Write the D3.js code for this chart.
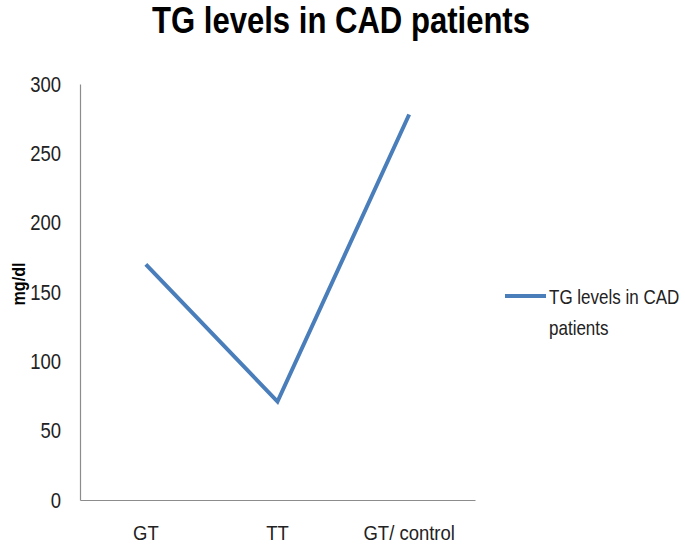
<!DOCTYPE html>
<html><head><meta charset="utf-8">
<script src="https://cdn.jsdelivr.net/npm/d3@7"></script>
<style>body{margin:0;background:#fff}svg{display:block}</style>
</head><body>
<script>
const categories = ["GT", "TT", "GT/ control"];
const values = [170, 71, 278];
const yTicks = [0, 50, 100, 150, 200, 250, 300];
const seriesName = "TG levels in CAD patients";
const titleText = "TG levels in CAD patients";
const yLabel = "mg/dl";

const W = 685, H = 552;
const font = "'Liberation Sans', Arial, sans-serif";
const svg = d3.select("body").append("svg").attr("width", W).attr("height", H);

// condense text horizontally to mimic a narrow (Calibri-like) face
function narrow(sel, f) {
  sel.each(function() {
    const w = this.getComputedTextLength();
    d3.select(this).attr("textLength", w * f).attr("lengthAdjust", "spacingAndGlyphs");
  });
}

const mLeft = 80, mRight = 475, mTop = 84, mBottom = 500;
const x = d3.scaleBand().domain(categories).range([mLeft, mRight]);
const y = d3.scaleLinear().domain([0, 300]).range([mBottom, mTop]);

svg.append("text").attr("x", 341).attr("y", 33).attr("text-anchor", "middle")
  .attr("font-family", font).attr("font-weight", "bold").attr("font-size", 36)
  .attr("fill", "#000").text(titleText)
  .attr("textLength", 378).attr("lengthAdjust", "spacingAndGlyphs");

const yAxis = svg.append("g").attr("transform", `translate(${mLeft},0)`)
  .call(d3.axisLeft(y).tickValues(yTicks).tickSize(0).tickPadding(19).tickFormat(d3.format("d")));
yAxis.select(".domain").attr("stroke", "#8c8c8c").attr("stroke-width", 1.2);
yAxis.selectAll("text").attr("font-family", font).attr("font-size", 22).attr("fill", "#222")
  .call(narrow, 0.84);

const xAxis = svg.append("g").attr("transform", `translate(0,${mBottom})`)
  .call(d3.axisBottom(x).tickSize(0).tickPadding(25));
xAxis.select(".domain").attr("stroke", "#8c8c8c").attr("stroke-width", 1.2);
xAxis.selectAll("text").attr("font-family", font).attr("font-size", 21).attr("fill", "#222")
  .call(narrow, 0.88);

svg.append("text").attr("transform", `translate(25,284) rotate(-90)`)
  .attr("text-anchor", "middle").attr("font-family", font).attr("font-weight", "bold")
  .attr("font-size", 19).attr("fill", "#000").text(yLabel)
  .attr("textLength", 43).attr("lengthAdjust", "spacingAndGlyphs");

const line = d3.line().x((d, i) => x(categories[i]) + x.bandwidth() / 2).y(d => y(d));
svg.append("path").datum(values).attr("d", line).attr("fill", "none")
  .attr("stroke", "#4a7ebb").attr("stroke-width", 4).attr("stroke-linejoin", "miter");

const lg = svg.append("g");
lg.append("line").attr("x1", 505).attr("x2", 546).attr("y1", 296).attr("y2", 296)
  .attr("stroke", "#4a7ebb").attr("stroke-width", 4);
const legendLines = ["TG levels in CAD", "patients"];
lg.selectAll("g.lg").data(legendLines).join("g").attr("class", "lg")
  .attr("transform", (d, i) => `translate(549,${304 + i * 31}) scale(0.81,1)`)
  .append("text")
  .attr("font-family", font).attr("font-size", 21).attr("fill", "#222")
  .text(d => d);
</script>
</body></html>
